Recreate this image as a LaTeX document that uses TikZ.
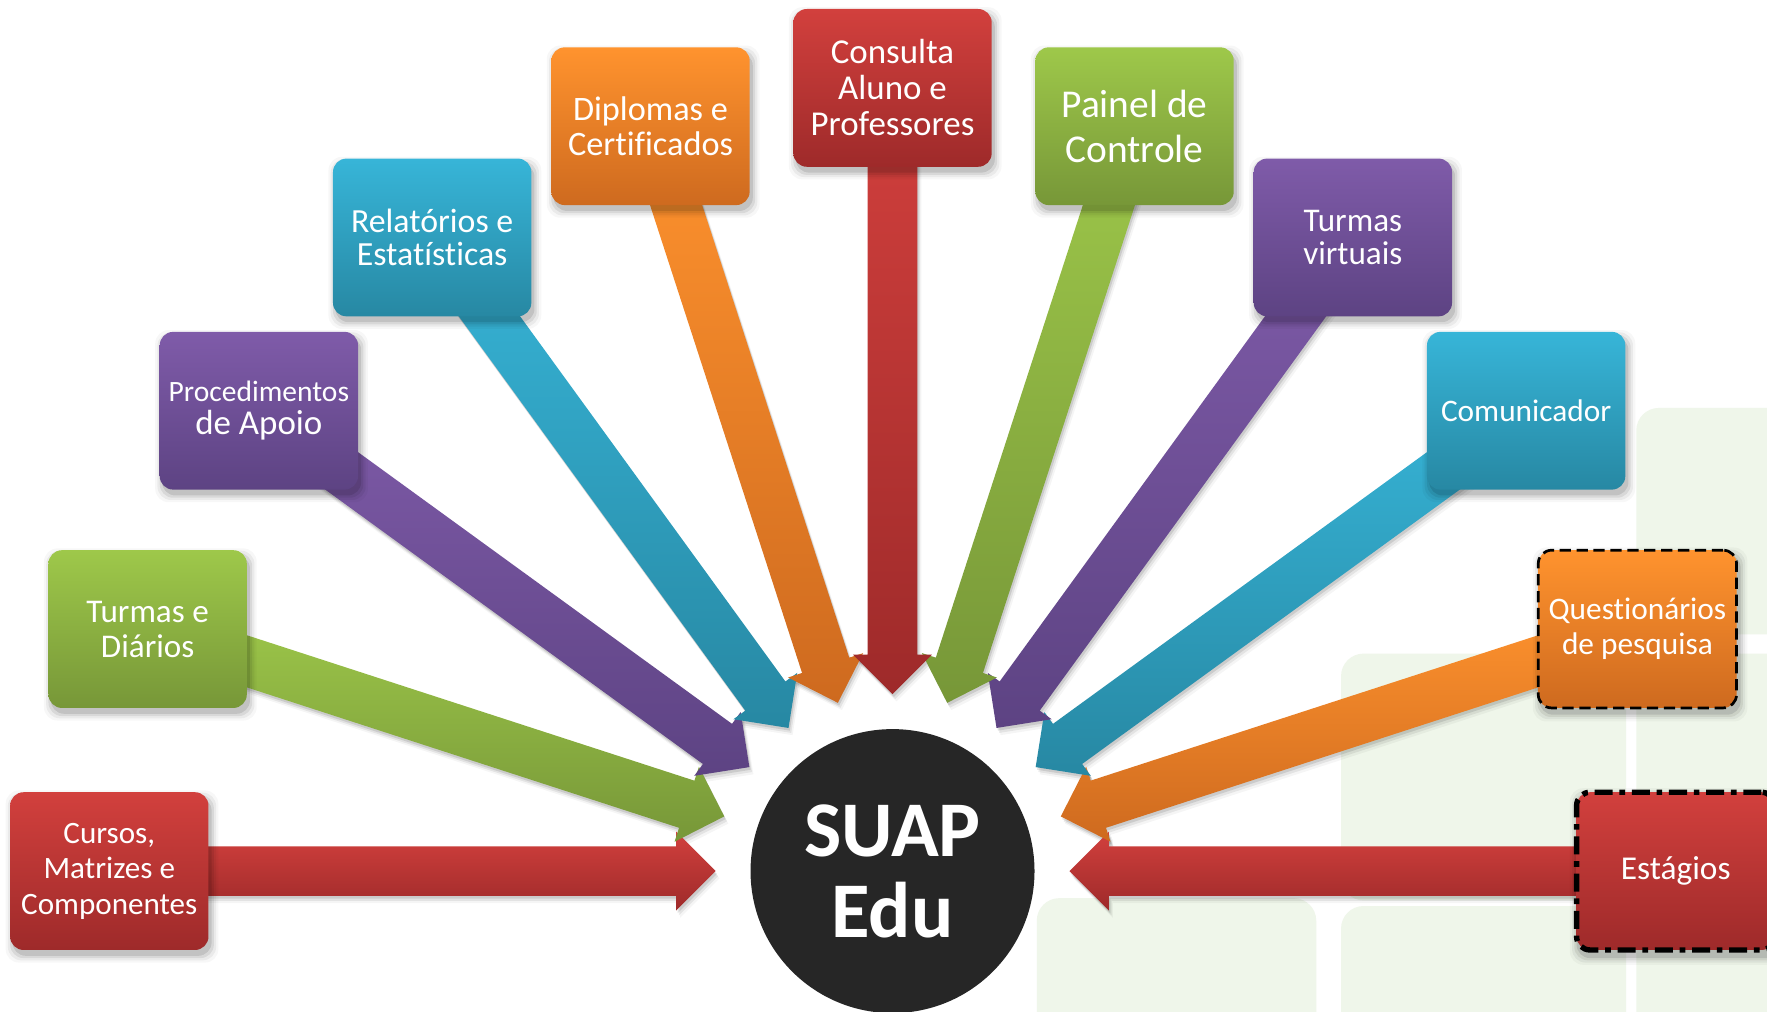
\documentclass[tikz,border=0pt]{standalone}
\usepackage{fontspec}
\setmainfont{Carlito}[Ligatures=NoCommon]
\usetikzlibrary{calc}
\pgfdeclarelayer{bglayer}
\pgfdeclarelayer{arrowshadowlayer}
\pgfdeclarelayer{arrowlayer}
\pgfdeclarelayer{boxshadowlayer}
\pgfsetlayers{bglayer,arrowshadowlayer,arrowlayer,boxshadowlayer,main}

\definecolor{redT}{RGB}{210,64,61}
\definecolor{redB}{RGB}{158,42,42}
\definecolor{grnT}{RGB}{158,200,74}
\definecolor{grnB}{RGB}{119,151,56}
\definecolor{purT}{RGB}{127,91,169}
\definecolor{purB}{RGB}{93,67,131}
\definecolor{cyaT}{RGB}{55,181,216}
\definecolor{cyaB}{RGB}{39,136,163}
\definecolor{ornT}{RGB}{255,147,46}
\definecolor{ornB}{RGB}{206,106,31}
\definecolor{bgG}{RGB}{239,246,234}
\definecolor{hubC}{RGB}{38,38,38}

\newcommand\fsz[2]{\fontsize{#1}{#2}\selectfont}

\tikzset{
  box/.style={rounded corners=6pt, minimum width=88pt, minimum height=70pt,
    inner sep=1pt, align=center, text=white},
  redbox/.style={box, top color=redT, bottom color=redB},
  grnbox/.style={box, top color=grnT, bottom color=grnB},
  purbox/.style={box, top color=purT, bottom color=purB},
  cyabox/.style={box, top color=cyaT, bottom color=cyaB},
  ornbox/.style={box, top color=ornT, bottom color=ornB},
  shadowfill/.style={fill=black, opacity=#1},
  bgrect/.style={fill=bgG, rounded corners=10pt},
}

% arrow from a box towards the hub: angle, box name, colour prefix
\newcommand\hubarrow[3]{%
  \coordinate (at1) at ($(hub.center)+(#1:157)$);
  \coordinate (at2) at ($(hub.center)+(#1:192)+(#1+90:35)$);
  \coordinate (at3) at ($(hub.center)+(#1:192)+(#1+90:22)$);
  \coordinate (at4) at ($(#2.center)+(#1+90:22)$);
  \coordinate (at5) at ($(#2.center)+(#1-90:22)$);
  \coordinate (at6) at ($(hub.center)+(#1:192)+(#1-90:22)$);
  \coordinate (at7) at ($(hub.center)+(#1:192)+(#1-90:35)$);
  \begin{pgfonlayer}{arrowshadowlayer}
    \foreach \sx/\sy/\op in {0.6pt/-1.2pt/0.10, 1.2pt/-2.2pt/0.07, 1.8pt/-3.2pt/0.04}{
      \fill[shadowfill=\op] ([xshift=\sx,yshift=\sy]at1) -- ([xshift=\sx,yshift=\sy]at2)
        -- ([xshift=\sx,yshift=\sy]at3) -- ([xshift=\sx,yshift=\sy]at4)
        -- ([xshift=\sx,yshift=\sy]at5) -- ([xshift=\sx,yshift=\sy]at6)
        -- ([xshift=\sx,yshift=\sy]at7) -- cycle;}
  \end{pgfonlayer}
  \begin{pgfonlayer}{arrowlayer}
    \path[top color=#3T, bottom color=#3B] (at1) -- (at2) -- (at3) -- (at4) -- (at5) -- (at6) -- (at7) -- cycle;
  \end{pgfonlayer}}

% soft shadow under a box
\newcommand\boxshadow[1]{%
  \begin{pgfonlayer}{boxshadowlayer}
    \foreach \gr/\op in {0pt/0.10, 1pt/0.07, 2pt/0.05, 3pt/0.03}{
      \fill[shadowfill=\op, rounded corners=6pt]
        ([xshift=1.2pt-\gr,yshift=-2.4pt-\gr]#1.south west) rectangle
        ([xshift=1.2pt+\gr,yshift=-2.4pt+\gr]#1.north east);}
  \end{pgfonlayer}}

\begin{document}
\begin{tikzpicture}[x=0.5pt,y=0.5pt]
\useasboundingbox (0,0) rectangle (1568,898);

% faint background tiles
\begin{pgfonlayer}{bglayer}
  \fill[white] (0,0) rectangle (1568,898);
  \fill[bgrect] (1452,335) rectangle (1660,536);
  \fill[bgrect] (1452,-60) rectangle (1660,318);
  \fill[bgrect] (1190,99) rectangle (1443,318);
  \fill[bgrect] (1190,-60) rectangle (1443,94);
  \fill[bgrect] (920,-60) rectangle (1168,101);
\end{pgfonlayer}

% hub
\node[circle, fill=hubC, minimum size=126pt, inner sep=0pt, text=white,
      align=center, font=\bfseries\fsz{35}{36}] (hub) at (792,125) {SUAP\\Edu};

% boxes
\node[redbox, font=\fsz{13.8}{15.8}] (cursos) at ($(hub.center)+(180:695)$) {Cursos,\\Matrizes e\\Componentes};
\node[grnbox, font=\fsz{14.7}{15.5}] (turmasd) at ($(hub.center)+(162:695)$) {Turmas e\\Diários};
\node[purbox, font=\fsz{15.5}{14.5}] (proc) at ($(hub.center)+(144:695)$) {{\fsz{13.1}{14.5}Procedimentos}\\de Apoio};
\node[cyabox, font=\fsz{15}{15}] (relat) at ($(hub.center)+(126:695)$) {Relatórios e\\Estatísticas};
\node[ornbox, font=\fsz{15.2}{15.5}] (dipl) at ($(hub.center)+(108:695)$) {Diplomas e\\Certificados};
\node[redbox, font=\fsz{15.5}{16}] (consulta) at ($(hub.center)+(90:695)$) {Consulta\\Aluno e\\Professores};
\node[grnbox, font=\fsz{17.5}{20}] (painel) at ($(hub.center)+(72:695)$) {Painel de\\Controle};
\node[purbox, font=\fsz{14.7}{15}] (turmasv) at ($(hub.center)+(54:695)$) {Turmas\\virtuais};
\node[cyabox, font=\fsz{13.9}{15}] (comun) at ($(hub.center)+(36:695)$) {Comunicador};
\node[ornbox, font=\fsz{13.9}{15.5}, draw=black, line width=1.2pt, dash pattern=on 5pt off 2.5pt] (quest) at ($(hub.center)+(18:695)$) {Questionários\\de pesquisa};
\node[redbox, font=\fsz{14.8}{15.5}, draw=black, line width=2.4pt, dash pattern=on 8pt off 3pt on 2.5pt off 3pt] (estag) at ($(hub.center)+(0:695)$) {Estágios};

\foreach \b in {cursos,turmasd,proc,relat,dipl,consulta,painel,turmasv,comun,quest,estag}{\boxshadow{\b}}

% arrows
\hubarrow{180}{cursos}{red}
\hubarrow{162}{turmasd}{grn}
\hubarrow{144}{proc}{pur}
\hubarrow{126}{relat}{cya}
\hubarrow{108}{dipl}{orn}
\hubarrow{0}{estag}{red}
\hubarrow{18}{quest}{orn}
\hubarrow{36}{comun}{cya}
\hubarrow{54}{turmasv}{pur}
\hubarrow{72}{painel}{grn}
\hubarrow{90}{consulta}{red}
\end{tikzpicture}
\end{document}
